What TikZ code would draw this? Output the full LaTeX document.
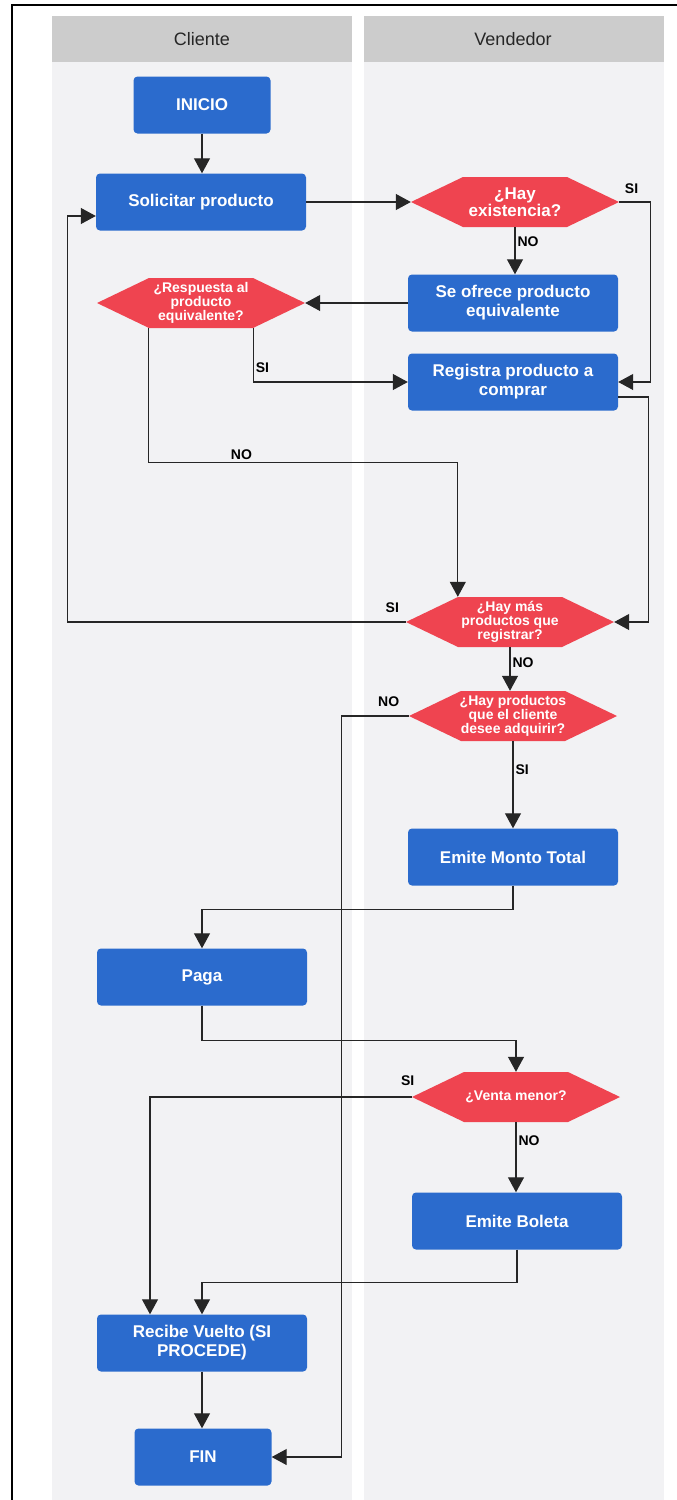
\documentclass[tikz,border=0pt]{standalone}
\usepackage{fontspec}
\setmainfont{Liberation Sans}
\usetikzlibrary{arrows.meta}
\definecolor{boxblue}{HTML}{2B6BCD}
\definecolor{hexred}{HTML}{EF4450}
\definecolor{lanegray}{HTML}{F2F2F4}
\definecolor{headgray}{HTML}{CCCCCC}
\tikzset{%
  process/.style  = {shape=rectangle, rounded corners=4pt,%
                     fill=boxblue, text=white, align=center,%
                     minimum width=210pt, minimum height=57pt,%
                     font=\bfseries\fontsize{17}{19}\selectfont},%
  terminal/.style = {process, minimum width=137pt},%
  decision/.style = {shape=rectangle, inner sep=0pt, text=white, align=center,%
                     minimum width=208pt, minimum height=50pt,%
                     font=\bfseries\fontsize{14}{14}\selectfont,%
                     path picture={\fill[hexred] (path picture bounding box.west)
                       -- ([xshift=52pt]path picture bounding box.north west)
                       -- ([xshift=-52pt]path picture bounding box.north east)
                       -- (path picture bounding box.east)
                       -- ([xshift=-52pt]path picture bounding box.south east)
                       -- ([xshift=52pt]path picture bounding box.south west)
                       -- cycle;}},%
  lane/.style     = {fill=lanegray},%
  lanehead/.style = {font=\fontsize{18}{18}\selectfont, text=black!85},%
  flow/.style     = {draw=black!85, line width=1.1pt,%
                     -{Triangle[length=15pt,width=16pt]}},%
  lbl/.style      = {font=\bfseries\fontsize{14}{14}\selectfont, inner sep=2pt}%
}
\begin{document}
\begin{tikzpicture}[x=1pt,y=-1pt]
		\useasboundingbox (0,0) rectangle (677,1500);
		% swimlanes
		\fill[lane] (52,62) rectangle (352,1500);
		\fill[lane] (364,62) rectangle (664,1500);
		\fill[headgray] (52,16) rectangle (352,62);
		\fill[headgray] (364,16) rectangle (664,62);
		\node[lanehead] (hcliente) at (202,39) {Cliente};
		\node[lanehead] (hvendedor) at (513,39) {Vendedor};
		\draw[line width=2.5pt] (12,1500) -- (12,5) -- (677,5);
		% steps
		\node[terminal] (inicio) at (202,105) {INICIO};
		\node[process] (solicitar) at (201,202) {Solicitar producto};
		\node[decision, font=\bfseries\fontsize{17}{17}\selectfont] (existencia) at (515,202) {¿Hay\\existencia?};
		\node[process] (ofrece) at (513,303) {Se ofrece producto\\equivalente};
		\node[decision] (respuesta) at (201,303) {¿Respuesta al\\producto\\equivalente?};
		\node[process] (registra) at (513,382) {Registra producto a\\comprar};
		\node[decision] (mas) at (510,622) {¿Hay más\\productos que\\registrar?};
		\node[decision] (adquirir) at (513,716) {¿Hay productos\\que el cliente\\desee adquirir?};
		\node[process] (monto) at (513,857) {Emite Monto Total};
		\node[process] (paga) at (202,977) {Paga};
		\node[decision] (venta) at (516,1097) {¿Venta menor?};
		\node[process] (boleta) at (517,1221) {Emite Boleta};
		\node[process] (vuelto) at (202,1343) {Recibe Vuelto (SI\\PROCEDE)};
		\node[terminal] (fin) at (203,1457) {FIN};
		% connectors
		\draw[flow] (inicio.south) -- (inicio.south |- solicitar.north);
		\draw[flow] (solicitar.east) -- (existencia.west);
		\draw[flow] (existencia.east) -- node[lbl, above=6pt, pos=0.4] {SI} ++(31,0) |- (registra.east);
		\draw[flow] (existencia.south) -- node[lbl, right, pos=0.3] {NO} (existencia.south |- ofrece.north);
		\draw[flow] (ofrece.west) -- (respuesta.east);
		\draw[flow] ([xshift=-52pt]respuesta.south east) |- node[lbl, right, pos=0.37] {SI} (registra.west);
		\draw[flow] ([xshift=52pt]respuesta.south west) -- ++(0,134) -| node[lbl, above, pos=0.15] {NO} ([xshift=52pt]mas.north west);
		\draw[flow] ([yshift=-15pt]registra.east) -- ++(30,0) |- (mas.east);
		\draw[flow] (mas.west) -- node[lbl, above=7pt, pos=0.04] {SI} ++(-338,0) |- ([yshift=-14pt]solicitar.west);
		\draw[flow] (mas.south) -- node[lbl, right, pos=0.35] {NO} (mas.south |- adquirir.north);
		\draw[flow] (adquirir.west) -- node[lbl, above=7pt, pos=0.3] {NO} ++(-67,0) |- (fin.east);
		\draw[flow] (adquirir.south) -- node[lbl, right, pos=0.33] {SI} (adquirir.south |- monto.north);
		\draw[flow] (monto.south) -- ++(0,24) -| (paga.north);
		\draw[flow] (paga.south) -- ++(0,35) -| (venta.north);
		\draw[flow] (venta.west) -| node[lbl, above=9pt, pos=0.008] {SI} ([xshift=-52pt]vuelto.north);
		\draw[flow] (venta.south) -- node[lbl, right, pos=0.27] {NO} (venta.south |- boleta.north);
		\draw[flow] (boleta.south) -- ++(0,33) -| (vuelto.north);
		\draw[flow] (vuelto.south) -- (vuelto.south |- fin.north);
\end{tikzpicture}
\end{document}
